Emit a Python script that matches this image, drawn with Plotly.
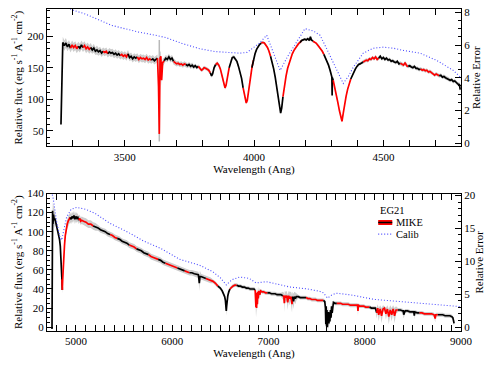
import numpy as np
import plotly.graph_objects as go
from plotly.subplots import make_subplots

# ---- upper panel: blue arm ----
top_wave = [
    3254, 3257, 3261, 3267, 3273, 3279, 3285, 3291, 3297, 3303, 3309, 3315, 3321, 3327, 3333, 3339, 3345, 3351, 3357, 3363,
    3369, 3375, 3381, 3387, 3393, 3399, 3405, 3411, 3417, 3423, 3429, 3435, 3441, 3447, 3453, 3459, 3465, 3471, 3477, 3483,
    3489, 3495, 3501, 3507, 3513, 3519, 3525, 3531, 3537, 3543, 3549, 3555, 3561, 3567, 3573, 3579, 3585, 3591, 3597, 3603,
    3609, 3615, 3621, 3627, 3631, 3634, 3637, 3640, 3643, 3647, 3653, 3659, 3665, 3671, 3677, 3683, 3689, 3695, 3701, 3707,
    3713, 3719, 3725, 3731, 3737, 3743, 3749, 3755, 3761, 3767, 3773, 3779, 3785, 3791, 3797, 3801, 3807, 3813, 3819, 3825,
    3831, 3836, 3840, 3846, 3852, 3858, 3864, 3870, 3876, 3882, 3888, 3892, 3898, 3904, 3910, 3916, 3922, 3928, 3934, 3940,
    3946, 3952, 3958, 3964, 3970, 3974, 3980, 3986, 3992, 3998, 4004, 4010, 4016, 4022, 4028, 4034, 4040, 4046, 4052, 4058,
    4064, 4070, 4076, 4082, 4088, 4094, 4099, 4103, 4107, 4112, 4118, 4124, 4130, 4136, 4142, 4148, 4154, 4160, 4166, 4172,
    4178, 4184, 4190, 4196, 4202, 4208, 4214, 4218, 4222, 4228, 4234, 4240, 4246, 4252, 4258, 4264, 4270, 4276, 4282, 4288,
    4294, 4299, 4301, 4302, 4303, 4306, 4312, 4318, 4324, 4330, 4335, 4340, 4345, 4350, 4356, 4362, 4368, 4374, 4380, 4386,
    4392, 4398, 4404, 4410, 4416, 4422, 4428, 4434, 4440, 4446, 4452, 4458, 4464, 4470, 4476, 4482, 4488, 4494, 4500, 4506,
    4512, 4518, 4524, 4530, 4536, 4542, 4548, 4554, 4560, 4566, 4572, 4578, 4584, 4590, 4596, 4602, 4608, 4614, 4620, 4626,
    4632, 4638, 4644, 4650, 4656, 4662, 4668, 4674, 4680, 4686, 4692, 4698, 4704, 4710, 4716, 4722, 4728, 4734, 4740, 4746,
    4752, 4758, 4764, 4770, 4776, 4782, 4788, 4794, 4797,
]
top_flux = [
    60, 150, 190, 185, 189, 183, 187, 181, 186, 182, 185, 180, 184, 181, 186, 182, 185, 180, 183, 179,
    182, 178, 181, 176, 178, 175, 177, 173, 176, 174, 176, 172, 175, 173, 174, 171, 173, 170, 172, 169,
    171, 168, 170, 167, 172, 166, 168, 164, 167, 165, 167, 163, 166, 164, 165, 163, 166, 162, 164, 162,
    164, 161, 163, 165, 120, 45, 165, 168, 130, 158, 161, 165, 163, 167, 163, 165, 160, 158, 156, 157,
    155, 156, 154, 156, 155, 153, 155, 152, 154, 151, 153, 150, 152, 149, 146, 147, 150, 149, 148, 146,
    142, 137, 140, 150, 155, 157, 154, 148, 138, 126, 118, 122, 136, 150, 160, 166, 167, 164, 160, 152,
    144, 133, 118, 103, 94, 98, 118, 135, 150, 162, 172, 179, 184, 187, 189, 190, 189, 186, 182, 176,
    168, 159, 148, 135, 120, 102, 88, 78, 86, 104, 122, 137, 149, 158, 166, 172, 177, 181, 185, 188,
    190, 193, 194, 195, 194, 196, 193, 199, 194, 192, 191, 189, 186, 183, 180, 176, 171, 166, 160, 154,
    146, 139, 135, 106, 134, 130, 120, 108, 95, 82, 72, 65, 78, 92, 105, 116, 125, 132, 138, 143,
    148, 152, 155, 156, 158, 159, 160, 162, 161, 164, 163, 166, 164, 167, 163, 165, 168, 164, 166, 163,
    165, 162, 163, 160, 161, 159, 158, 160, 156, 157, 155, 154, 158, 153, 152, 153, 151, 150, 152, 149,
    149, 147, 148, 146, 147, 145, 146, 143, 144, 142, 141, 138, 140, 139, 137, 138, 135, 136, 134, 133,
    132, 130, 131, 128, 129, 126, 124, 123, 115,
]
top_err = [
    4, 7, 9, 8, 8, 7, 7, 7, 7, 7, 7, 7, 7, 7, 7, 7, 7, 7, 7, 7,
    7, 6, 7, 6, 7, 6, 6, 6, 6, 6, 6, 6, 6, 6, 6, 6, 6, 6, 6, 6,
    6, 6, 6, 6, 6, 6, 6, 6, 6, 6, 6, 6, 6, 6, 6, 6, 6, 6, 6, 6,
    6, 6, 6, 6, 9, 12, 9, 9, 9, 6, 5, 5, 5, 5, 5, 5, 5, 4, 4, 4,
    4, 4, 4, 4, 4, 4, 4, 4, 4, 4, 3, 3, 3, 3, 3, 3, 3, 3, 3, 3,
    3, 3, 3, 3, 3, 3, 3, 3, 3, 3, 3, 3, 3, 3, 3, 3, 3, 3, 3, 3,
    2, 2, 2, 2, 2, 2, 2, 2, 2, 2, 2, 2, 2, 2, 2, 2, 2, 2, 2, 2,
    2, 2, 2, 2, 2, 2, 2, 2, 2, 2, 2, 2, 2, 2, 2, 2, 2, 2, 2, 2,
    2, 2, 2, 2, 2, 2, 2, 2, 2, 2, 2, 2, 2, 2, 2, 2, 2, 2, 2, 2,
    2, 2, 4, 8, 4, 2, 2, 2, 2, 2, 2, 2, 2, 2, 2, 2, 2, 2, 2, 2,
    2, 2, 2, 2, 2, 3, 3, 3, 3, 3, 3, 3, 3, 3, 3, 3, 3, 3, 3, 3,
    3, 3, 3, 3, 3, 3, 3, 3, 3, 3, 3, 3, 3, 3, 3, 3, 3, 3, 3, 3,
    3, 3, 3, 3, 3, 3, 3, 3, 3, 3, 3, 3, 3, 3, 3, 3, 3, 3, 3, 3,
    3, 3, 3, 3, 3, 3, 3, 4, 7,
]
# echelle order edges (alternating black / red)
top_orders = [3254, 3289, 3316, 3335, 3366, 3413, 3432, 3482, 3509, 3548, 3598, 3625, 3652, 3687,
              3733, 3784, 3830, 3849, 3900, 3954, 3992, 4027, 4062, 4108, 4178, 4224, 4267, 4305,
              4371, 4421, 4479, 4564, 4595, 4642, 4711, 4800]
top_spike_wave = [3634, 3634]
top_spike_flux = [33, 194]
top_cal_wave = [3250, 3296, 3347, 3405, 3450, 3500, 3552, 3618, 3660, 3721, 3791, 3850, 3919, 3946,
                3973, 3996, 4020, 4049, 4075, 4101, 4130, 4160, 4197, 4230, 4255, 4280, 4306, 4330,
                4345, 4365, 4384, 4422, 4460, 4500, 4540, 4577, 4642, 4706, 4770, 4800]
top_cal = [8.6, 8.15, 7.9, 7.5, 7.2, 7.0, 6.8, 6.6, 6.45, 6.1, 5.77, 5.6, 5.5, 5.5,
           5.55, 5.8, 6.1, 6.6, 5.5, 4.45, 5.3, 6.1, 7.0, 6.85, 6.6, 5.8, 4.95, 4.1,
           3.65, 4.1, 4.65, 5.5, 5.8, 5.87, 5.8, 5.67, 5.5, 5.06, 4.45, 4.0]

# ---- lower panel: red arm ----
bot_wave = [
    4752, 4755, 4758, 4762, 4768, 4775, 4782, 4790, 4798, 4806, 4814, 4822, 4830, 4838, 4845, 4850, 4855, 4859, 4863, 4868,
    4874, 4882, 4890, 4900, 4910, 4920, 4930, 4940, 4950, 4960, 4970, 4980, 4990, 5000, 5010, 5020, 5030, 5040, 5050, 5060,
    5080, 5105, 5130, 5155, 5180, 5205, 5230, 5255, 5280, 5305, 5330, 5355, 5380, 5405, 5430, 5455, 5480, 5505, 5530, 5555,
    5580, 5605, 5630, 5655, 5680, 5705, 5730, 5755, 5780, 5805, 5830, 5855, 5880, 5905, 5930, 5955, 5980, 6005, 6030, 6055,
    6080, 6105, 6130, 6155, 6180, 6205, 6230, 6255, 6272, 6278, 6282, 6288, 6300, 6325, 6350, 6375, 6400, 6425, 6450, 6475,
    6500, 6520, 6535, 6545, 6553, 6558, 6562, 6566, 6571, 6578, 6588, 6600, 6615, 6630, 6650, 6670, 6690, 6710, 6730, 6750,
    6770, 6790, 6810, 6830, 6850, 6862, 6867, 6870, 6873, 6877, 6881, 6885, 6889, 6893, 6900, 6910, 6920, 6935, 6950, 6970,
    6990, 7010, 7030, 7050, 7070, 7090, 7110, 7130, 7150, 7160, 7165, 7170, 7180, 7190, 7200, 7210, 7220, 7230, 7240, 7245,
    7250, 7260, 7270, 7280, 7290, 7310, 7330, 7350, 7370, 7390, 7410, 7430, 7450, 7470, 7490, 7510, 7530, 7550, 7570, 7585,
    7592, 7596, 7600, 7604, 7608, 7612, 7616, 7620, 7624, 7628, 7632, 7638, 7644, 7650, 7656, 7662, 7668, 7675, 7690, 7710,
    7730, 7750, 7770, 7790, 7810, 7830, 7850, 7870, 7890, 7910, 7925, 7930, 7935, 7950, 7970, 7990, 8010, 8030, 8050, 8070,
    8090, 8110, 8125, 8135, 8145, 8160, 8175, 8190, 8205, 8220, 8235, 8250, 8265, 8280, 8295, 8310, 8325, 8345, 8370, 8395,
    8400, 8405, 8420, 8445, 8470, 8495, 8510, 8515, 8520, 8545, 8570, 8595, 8620, 8645, 8670, 8695, 8720, 8732, 8738, 8760,
    8785, 8810, 8835, 8860, 8885, 8905, 8915, 8922, 8928,
]
bot_flux = [
    -2, 60, 122, 108, 118, 112, 114, 110, 107, 104, 100, 97, 92, 85, 75, 64, 50, 39, 50, 62,
    74, 86, 96, 103, 108, 111, 113, 115, 113, 116, 114, 117, 113, 116, 114, 115, 112, 114, 111, 112,
    111, 110, 108, 108, 106, 105, 104, 102, 101, 100, 98, 97, 96, 94, 93, 92, 90, 89, 88, 86,
    85, 84, 82, 81, 80, 78, 77, 76, 74, 73, 72, 71, 70, 68, 67, 66, 65, 64, 63, 62,
    61, 60, 59, 58, 57, 57, 56, 55, 55, 50, 46, 53, 53, 52, 51, 50, 49, 48, 46, 43,
    41, 38, 35, 32, 28, 22, 17, 22, 28, 33, 37, 40, 42, 43, 44, 44, 43, 43, 42, 42,
    41, 41, 40, 40, 40, 39, 30, 21, 36, 20, 35, 24, 37, 30, 38, 34, 38, 37, 37, 36,
    36, 36, 35, 35, 35, 34, 34, 34, 33, 32, 25, 33, 31, 33, 26, 33, 30, 32, 28, 24,
    32, 27, 32, 30, 32, 32, 31, 31, 31, 31, 30, 30, 29, 29, 29, 28, 28, 28, 28, 27,
    20, 3, 22, 1, 18, 0, 14, 2, 16, 4, 12, 6, 18, 10, 22, 15, 24, 26, 25, 25,
    25, 25, 24, 24, 24, 24, 23, 23, 23, 23, 23, 17, 23, 22, 22, 22, 21, 21, 21, 20,
    20, 20, 15, 20, 13, 19, 12, 19, 20, 14, 19, 11, 18, 13, 19, 12, 18, 18, 18, 17,
    17, 13, 17, 17, 16, 16, 16, 12, 16, 15, 15, 15, 14, 14, 14, 14, 13, 9, 13, 13,
    13, 13, 12, 12, 12, 11, 10, 7, 4,
]
bot_err = [
    2, 40, 12, 15, 12, 8, 6, 5, 4, 4, 4, 4, 4, 4, 4, 4, 4, 4, 4, 4,
    4, 4, 4, 5, 5, 5, 5, 5, 5, 5, 5, 5, 5, 5, 5, 4, 4, 4, 4, 4,
    4, 4, 4, 4, 4, 4, 3, 3, 3, 3, 3, 3, 3, 3, 3, 3, 3, 3, 3, 3,
    3, 3, 3, 3, 3, 3, 3, 3, 3, 3, 3, 3, 3, 3, 3, 3, 3, 3, 3, 3,
    3, 3, 3, 3, 3, 3, 3, 3, 3, 6, 8, 6, 3, 3, 3, 3, 3, 2, 2, 2,
    2, 2, 2, 2, 2, 4, 5, 4, 2, 2, 2, 2, 2, 2, 2, 2, 2, 2, 2, 2,
    2, 2, 2, 2, 2, 2, 6, 10, 6, 10, 6, 8, 5, 6, 4, 5, 2, 2, 2, 2,
    2, 2, 2, 2, 2, 2, 2, 2, 4, 4, 9, 5, 6, 5, 8, 5, 7, 5, 8, 9,
    5, 8, 5, 6, 4, 2, 2, 2, 2, 2, 2, 2, 2, 2, 2, 2, 2, 2, 2, 2,
    5, 6, 5, 6, 5, 7, 6, 7, 6, 6, 6, 5, 5, 5, 4, 4, 3, 2, 2, 2,
    2, 2, 2, 2, 2, 2, 2, 2, 2, 2, 2, 5, 2, 2, 2, 2, 2, 2, 2, 2,
    2, 2, 6, 4, 7, 4, 8, 4, 2, 6, 4, 8, 5, 7, 4, 8, 4, 2, 2, 2,
    2, 4, 2, 2, 2, 2, 2, 4, 2, 2, 2, 2, 2, 2, 2, 2, 2, 4, 2, 2,
    2, 2, 2, 2, 2, 2, 2, 3, 3,
]
bot_orders = [4752, 4855, 4938, 5021, 5166, 5332, 5425, 5539, 5612, 5746, 5850, 5922, 6047, 6110,
              6160, 6337, 6472, 6596, 6668, 6855, 6979, 7145, 7249, 7373, 7559, 7700, 8045, 8117,
              8326, 8565, 8740, 8930]
bot_cal_wave = [4740, 4765, 4800, 4835, 4852, 4870, 4904, 4950, 5008, 5100, 5197, 5350, 5543, 5700,
                5888, 6078, 6285, 6423, 6500, 6562, 6620, 6700, 6800, 6873, 6976, 7100, 7217, 7400,
                7528, 7570, 7614, 7650, 7701, 7850, 8046, 8100, 8390, 8600, 8906, 9000]
bot_cal = [21, 19.5, 16, 13.6, 13.2, 14.5, 16.7, 17.9, 18.2, 17.9, 17.3, 15.8, 14.4, 13.1,
           11.9, 10.3, 9.4, 8.4, 7.5, 6.4, 7.2, 7.6, 7.4, 6.7, 6.9, 6.5, 6.1, 5.8,
           5.45, 5.2, 4.4, 4.8, 5.15, 4.9, 4.4, 4.2, 3.85, 3.6, 3.2, 3.1]

assert len(top_wave) == len(top_flux) == len(top_err)
assert len(bot_wave) == len(bot_flux) == len(bot_err)

GRAY = "#cdcdcd"
BLUE = "#4a4aff"
FONT = "Liberation Serif"

fig = make_subplots(rows=2, cols=1, vertical_spacing=0.146,
                    specs=[[{"secondary_y": True}], [{"secondary_y": True}]])


def add_panel(row, wave, flux, err, orders, cal_wave, cal, extra=None):
    w = np.array(wave, dtype=float)
    f = np.array(flux, dtype=float)
    e = np.array(err, dtype=float)
    # grey error envelope
    fig.add_trace(go.Scatter(x=np.concatenate([w, w[::-1]]),
                             y=np.concatenate([f + e, (f - e)[::-1]]),
                             fill="toself", fillcolor=GRAY, mode="lines",
                             line=dict(width=0, color=GRAY), hoverinfo="skip",
                             showlegend=False),
                  row=row, col=1, secondary_y=False)
    if extra is not None:
        fig.add_trace(go.Scatter(x=extra[0], y=extra[1], mode="lines",
                                 line=dict(color="#b8b8b8", width=1.5), showlegend=False),
                      row=row, col=1, secondary_y=False)
    # orders, alternating colours
    for i in range(len(orders) - 1):
        lo = np.searchsorted(w, orders[i], side="left")
        hi = np.searchsorted(w, orders[i + 1], side="right")
        sl = slice(lo, min(hi + 1, len(w)))
        fig.add_trace(go.Scatter(x=w[sl], y=f[sl], mode="lines",
                                 line=dict(color="black" if i % 2 == 0 else "red", width=1.7),
                                 showlegend=False),
                      row=row, col=1, secondary_y=False)
    fig.add_trace(go.Scatter(x=cal_wave, y=cal, mode="lines",
                             line=dict(color=BLUE, width=1.1, dash="1px,2px"),
                             showlegend=False),
                  row=row, col=1, secondary_y=True)


add_panel(1, top_wave, top_flux, top_err, top_orders, top_cal_wave, top_cal,
          extra=(top_spike_wave, top_spike_flux))
add_panel(2, bot_wave, bot_flux, bot_err, bot_orders, bot_cal_wave, bot_cal)

ytitle = "Relative flux (erg s<sup>-1</sup> A<sup>-1</sup> cm<sup>-2</sup>)"
tfont = dict(family=FONT, size=11, color="black")
axis_common = dict(showgrid=False, zeroline=False, showline=True, linecolor="black",
                   linewidth=1, ticks="inside", tickcolor="black", ticklen=6,
                   tickfont=tfont, automargin=False)

# make_subplots shrinks x domain for secondary axes; use the full width
for row, xr, step in [(1, [3200, 4800], 500), (2, [4700, 9000], 1000)]:
    fig.update_xaxes(range=xr, dtick=step, mirror="allticks", domain=[0, 1],
                     minor=dict(dtick=100, ticks="inside", ticklen=3, tickcolor="black"),
                     title=dict(text="Wavelength (Ang)", standoff=0, font=tfont),
                     row=row, col=1, **axis_common)

fig.update_yaxes(range=[25, 243], dtick=50,
                 minor=dict(dtick=10, ticks="inside", ticklen=3, tickcolor="black"),
                 title=dict(text=ytitle, standoff=2, font=tfont),
                 row=1, col=1, secondary_y=False, **axis_common)
fig.update_yaxes(range=[-0.2, 8.2], dtick=2,
                 minor=dict(dtick=0.5, ticks="inside", ticklen=3, tickcolor="black"),
                 title=dict(text="Relative Error", standoff=2, font=tfont),
                 row=1, col=1, secondary_y=True, **axis_common)
fig.update_yaxes(range=[-4, 140], dtick=20,
                 minor=dict(dtick=5, ticks="inside", ticklen=3, tickcolor="black"),
                 title=dict(text=ytitle, standoff=2, font=tfont),
                 row=2, col=1, secondary_y=False, **axis_common)
fig.update_yaxes(range=[-0.6, 20.3], dtick=5,
                 minor=dict(dtick=1, ticks="inside", ticklen=3, tickcolor="black"),
                 title=dict(text="Relative Error", standoff=2, font=tfont),
                 row=2, col=1, secondary_y=True, **axis_common)

# legend drawn by hand (short sample lines like the original)
lfont = dict(family=FONT, size=10.5, color="black")
fig.add_annotation(x=0.80, y=0.373, xref="paper", yref="paper", text="EG21", height=11,
                   showarrow=False, xanchor="left", yanchor="middle", font=lfont)
fig.add_annotation(x=0.838, y=0.337, xref="paper", yref="paper", text="MIKE", height=11,
                   showarrow=False, xanchor="left", yanchor="middle", font=lfont)
fig.add_annotation(x=0.838, y=0.301, xref="paper", yref="paper", text="Calib", height=11,
                   showarrow=False, xanchor="left", yanchor="middle", font=lfont)
fig.add_shape(type="line", xref="paper", yref="paper", x0=0.80, x1=0.834, y0=0.337, y1=0.337,
              line=dict(color="red", width=5))
fig.add_shape(type="line", xref="paper", yref="paper", x0=0.80, x1=0.834, y0=0.337, y1=0.337,
              line=dict(color="black", width=1.5))
fig.add_shape(type="line", xref="paper", yref="paper", x0=0.80, x1=0.834, y0=0.301, y1=0.301,
              line=dict(color=BLUE, width=1.1, dash="1px,2px"))

fig.update_layout(width=485, height=368, margin=dict(l=47, r=24, t=9, b=37),
                  paper_bgcolor="white", plot_bgcolor="white",
                  font=tfont, showlegend=False)

# drop the default 8px page margin so the figure fills the window exactly
fig.write_html("out.html", config={"displayModeBar": False},
               post_script="document.body.style.margin='0';document.body.style.overflow='hidden';")
